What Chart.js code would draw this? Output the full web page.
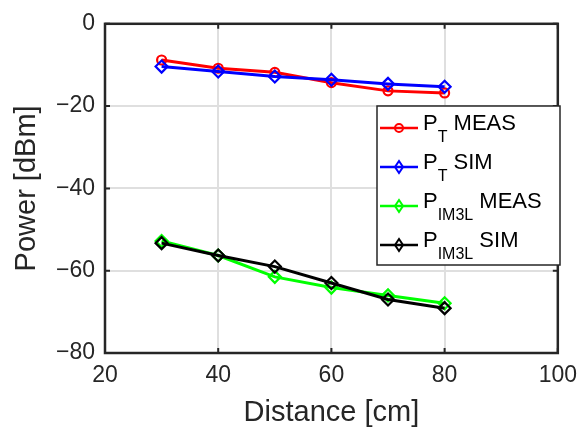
<!DOCTYPE html>
<html>
<head>
    <title>Power vs Distance</title>
    <style>
        html, body { margin: 0; padding: 0; background: #ffffff; }
        #wrap { width: 586px; height: 427px; position: relative; }
    </style>
</head>
<body>
    <div id="wrap">
        <canvas id="power-chart" width="586" height="427"></canvas>
    </div>

    <script src="https://cdn.jsdelivr.net/npm/chart.js"></script>

    <script>
        // Data
        const distances = [30, 40, 50, 60, 70, 80];
        const ptMeas = [-8.8, -10.8, -11.8, -14.3, -16.3, -16.8];
        const ptSim = [-10.4, -11.6, -12.8, -13.6, -14.6, -15.3];
        const pim3lMeas = [-52.8, -56.3, -61.5, -64.1, -66.0, -67.9];
        const pim3lSim = [-53.3, -56.3, -59.0, -63.0, -67.0, -69.1];

        const xTicks = [20, 40, 60, 80, 100];
        const yTicks = [0, -20, -40, -60, -80];

        // legend: main text, subscript, suffix
        const legendItems = [
            { main: 'P', sub: 'T', rest: ' MEAS', color: '#ff0000', marker: 'circle' },
            { main: 'P', sub: 'T', rest: ' SIM', color: '#0000ff', marker: 'diamond' },
            { main: 'P', sub: 'IM3L', rest: ' MEAS', color: '#00ff00', marker: 'diamond' },
            { main: 'P', sub: 'IM3L', rest: ' SIM', color: '#000000', marker: 'diamond' }
        ];

        const FONT = '"Liberation Sans", Arial, Helvetica, sans-serif';
        const AXIS_COLOR = '#262626';

        function toPoints(values) {
            return distances.map((d, i) => ({ x: d, y: values[i] }));
        }

        function makeSet(label, values, color, style, order) {
            return {
                label: label,
                data: toPoints(values),
                borderColor: color,
                backgroundColor: 'rgba(0,0,0,0)',
                borderWidth: 3,
                pointStyle: style,
                pointRadius: style === 'circle' ? 4.5 : 6,
                pointBorderWidth: 2.2,
                pointBorderColor: color,
                pointBackgroundColor: 'rgba(0,0,0,0)',
                tension: 0,
                order: order
            };
        }

        function drawMarker(ctx, type, x, y, color) {
            ctx.save();
            ctx.strokeStyle = color;
            ctx.lineWidth = 2;
            ctx.beginPath();
            if (type === 'circle') {
                ctx.arc(x, y, 4, 0, Math.PI * 2);
            } else {
                ctx.moveTo(x, y - 6);
                ctx.lineTo(x + 4, y);
                ctx.lineTo(x, y + 6);
                ctx.lineTo(x - 4, y);
                ctx.closePath();
            }
            ctx.stroke();
            ctx.restore();
        }

        // box, inner ticks and the legend, MATLAB style
        const matlabFrame = {
            id: 'matlabFrame',
            afterDraw(chart) {
                const ctx = chart.ctx;
                const a = chart.chartArea;
                const xs = chart.scales.x;
                const ys = chart.scales.y;
                ctx.save();
                ctx.strokeStyle = AXIS_COLOR;
                ctx.lineWidth = 2.5;
                ctx.strokeRect(a.left, a.top, a.right - a.left, a.bottom - a.top);

                // tick marks pointing inwards
                ctx.lineWidth = 2;
                ctx.beginPath();
                xTicks.forEach(t => {
                    const px = xs.getPixelForValue(t);
                    ctx.moveTo(px, a.bottom); ctx.lineTo(px, a.bottom - 5);
                    ctx.moveTo(px, a.top); ctx.lineTo(px, a.top + 5);
                });
                yTicks.forEach(t => {
                    const py = ys.getPixelForValue(t);
                    ctx.moveTo(a.left, py); ctx.lineTo(a.left + 5, py);
                    ctx.moveTo(a.right, py); ctx.lineTo(a.right - 5, py);
                });
                ctx.stroke();

                // legend box
                const bx = 377, by = 106, bw = 183, bh = 159;
                ctx.fillStyle = '#ffffff';
                ctx.fillRect(bx, by, bw, bh);
                ctx.strokeStyle = AXIS_COLOR;
                ctx.lineWidth = 1.5;
                ctx.strokeRect(bx, by, bw, bh);

                legendItems.forEach((item, i) => {
                    const cy = by + 22 + i * 39;
                    ctx.strokeStyle = item.color;
                    ctx.lineWidth = 2.5;
                    ctx.beginPath();
                    ctx.moveTo(bx + 3, cy);
                    ctx.lineTo(bx + 41, cy);
                    ctx.stroke();
                    drawMarker(ctx, item.marker, bx + 22, cy, item.color);

                    ctx.fillStyle = '#000000';
                    ctx.textBaseline = 'alphabetic';
                    ctx.textAlign = 'left';
                    let tx = bx + 46;
                    ctx.font = '22px ' + FONT;
                    ctx.fillText(item.main, tx, cy + 2);
                    tx += ctx.measureText(item.main).width;
                    ctx.font = '16px ' + FONT;
                    ctx.fillText(item.sub, tx, cy + 14);
                    tx += ctx.measureText(item.sub).width;
                    ctx.font = '22px ' + FONT;
                    ctx.fillText(item.rest, tx, cy + 2);
                });
                ctx.restore();
            }
        };

        const ctx = document.getElementById('power-chart').getContext('2d');
        const chart = new Chart(ctx, {
            type: 'line',
            data: {
                datasets: [
                    makeSet('PT MEAS', ptMeas, '#ff0000', 'circle', 4),
                    makeSet('PT SIM', ptSim, '#0000ff', 'rectRot', 3),
                    makeSet('PIM3L MEAS', pim3lMeas, '#00ff00', 'rectRot', 2),
                    makeSet('PIM3L SIM', pim3lSim, '#000000', 'rectRot', 1)
                ]
            },
            options: {
                responsive: false,
                animation: false,
                layout: { padding: { top: 21, right: 28, left: 0, bottom: 0 } },
                plugins: {
                    legend: { display: false },
                    tooltip: { enabled: false }
                },
                scales: {
                    x: {
                        type: 'linear',
                        min: 20,
                        max: 100,
                        afterBuildTicks: axis => { axis.ticks = xTicks.map(v => ({ value: v })); },
                        afterFit: axis => { axis.height = 74; },
                        grid: { color: '#dfdfdf', lineWidth: 2, drawTicks: false },
                        border: { display: false },
                        ticks: {
                            color: AXIS_COLOR,
                            font: { family: FONT, size: 23 },
                            padding: 9,
                            maxRotation: 0
                        },
                        title: {
                            display: true,
                            text: 'Distance [cm]',
                            color: AXIS_COLOR,
                            font: { family: FONT, size: 29, lineHeight: 1 },
                            padding: { top: 0, bottom: 0 }
                        }
                    },
                    y: {
                        min: -80,
                        max: 0,
                        afterBuildTicks: axis => { axis.ticks = yTicks.map(v => ({ value: v })); },
                        afterFit: axis => { axis.width = 105; },
                        grid: { color: '#dfdfdf', lineWidth: 2, drawTicks: false },
                        border: { display: false },
                        ticks: {
                            color: AXIS_COLOR,
                            font: { family: FONT, size: 23 },
                            padding: 10,
                            callback: v => String(v).replace('-', '\u2212')
                        },
                        title: {
                            display: true,
                            text: 'Power [dBm]',
                            color: AXIS_COLOR,
                            font: { family: FONT, size: 29, lineHeight: 1 },
                            padding: { top: 12, bottom: 0 }
                        }
                    }
                }
            },
            plugins: [matlabFrame]
        });
    </script>
</body>
</html>
